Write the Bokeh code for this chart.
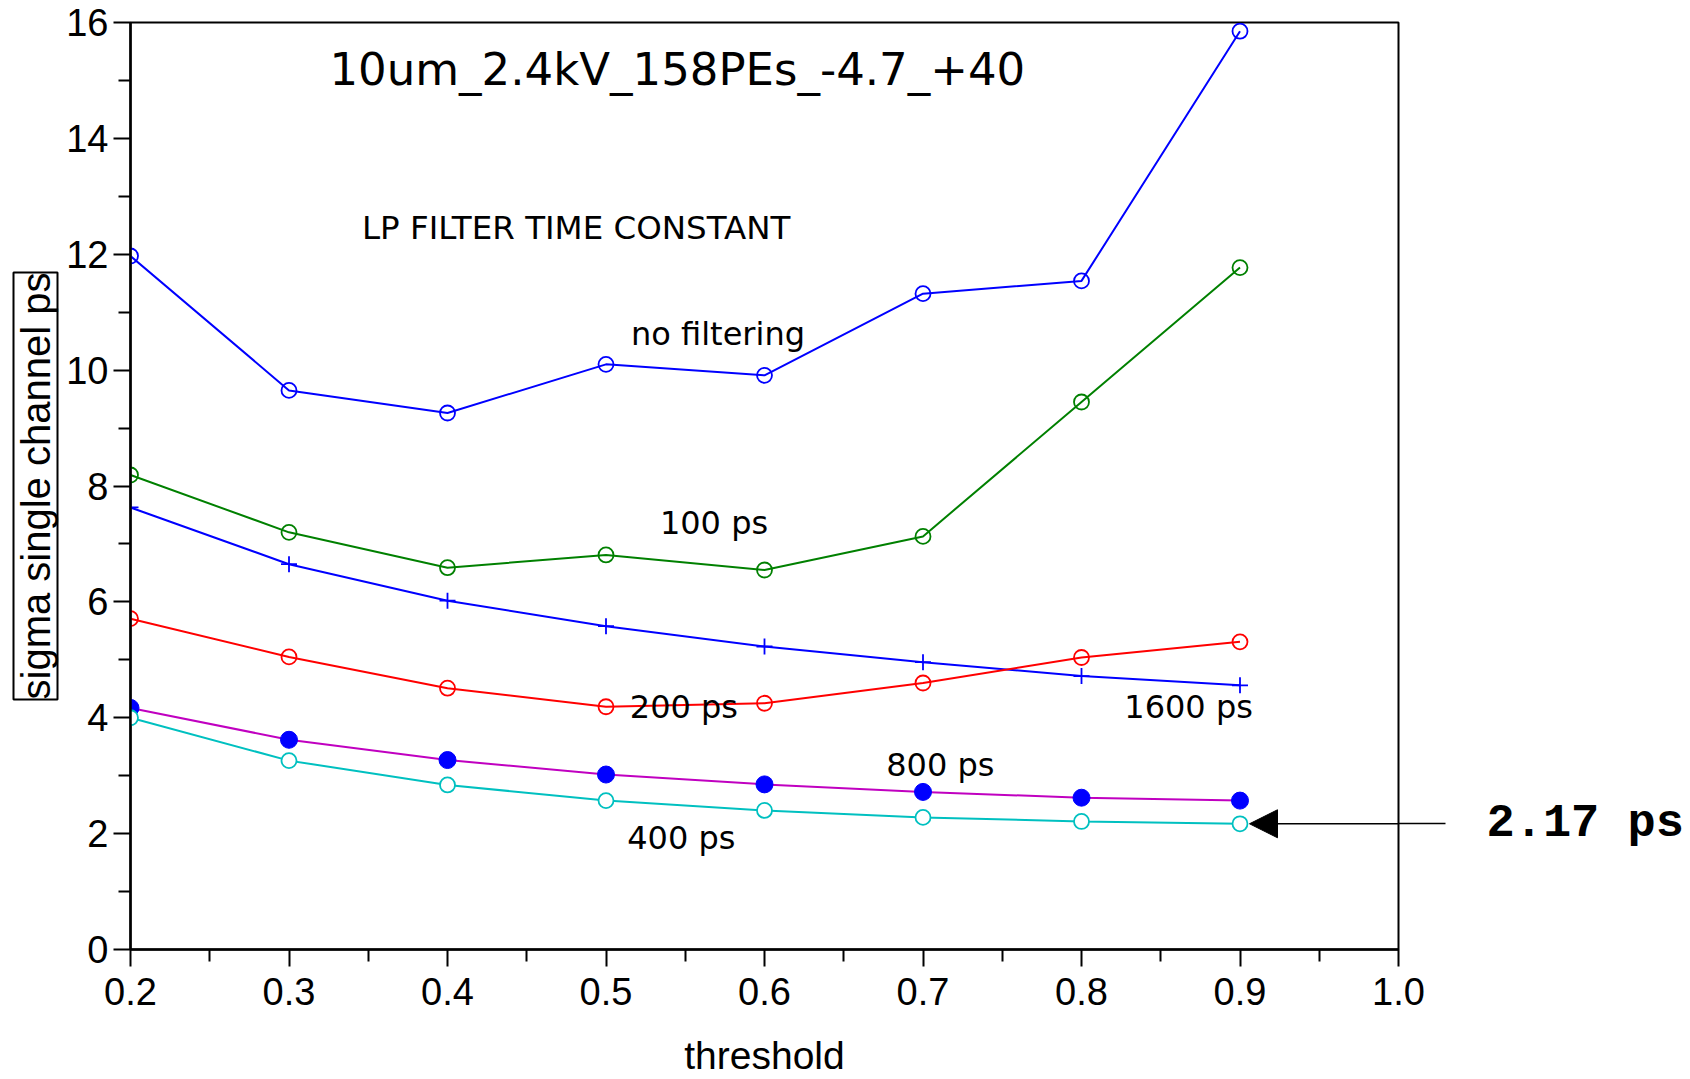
from bokeh.plotting import figure
from bokeh.models import Label, Arrow, NormalHead, Range1d, FixedTicker, LinearAxis, Title
from bokeh.embed import file_html
from bokeh.resources import INLINE

# ---- data ----
threshold = [0.2, 0.3, 0.4, 0.5, 0.6, 0.7, 0.8, 0.9]
sigma_no_filter = [11.97, 9.65, 9.26, 10.10, 9.91, 11.32, 11.54, 15.85]
sigma_100ps = [8.19, 7.20, 6.59, 6.81, 6.55, 7.13, 9.45, 11.77]
sigma_200ps = [5.71, 5.05, 4.51, 4.19, 4.25, 4.60, 5.04, 5.31]
sigma_400ps = [4.00, 3.26, 2.84, 2.57, 2.40, 2.28, 2.21, 2.17]
sigma_800ps = [4.17, 3.62, 3.27, 3.02, 2.85, 2.72, 2.62, 2.57]
sigma_1600ps = [7.63, 6.65, 6.02, 5.58, 5.23, 4.96, 4.72, 4.56]

x_ticks = [0.2, 0.3, 0.4, 0.5, 0.6, 0.7, 0.8, 0.9, 1.0]
x_tick_labels = ["0.2", "0.3", "0.4", "0.5", "0.6", "0.7", "0.8", "0.9", "1.0"]
x_minor = [0.25, 0.35, 0.45, 0.55, 0.65, 0.75, 0.85, 0.95]
y_ticks = [0, 2, 4, 6, 8, 10, 12, 14, 16]
y_minor = [1, 3, 5, 7, 9, 11, 13, 15]

title_text = "10um_2.4kV_158PEs_-4.7_+40"
legend_title = "LP FILTER TIME CONSTANT"
series_names = ["no filtering", "100 ps", "200 ps", "400 ps", "800 ps", "1600 ps"]
annot_value = 2.17
annot_text = "2.17 ps"
x_label = "threshold"
y_label = "sigma single channel ps"

SANS = "Liberation Sans"
DEJ = "DejaVu Sans"

p = figure(width=1690, height=1079, output_backend="svg", toolbar_location=None,
           x_range=Range1d(x_ticks[0], x_ticks[-1]),
           y_range=Range1d(y_ticks[0], y_ticks[-1]),
           min_border_left=130, min_border_right=292, min_border_top=22,
           min_border_bottom=129)
p.background_fill_color = "white"
p.border_fill_color = "white"
p.outline_line_color = "black"
p.outline_line_width = 2
p.xgrid.visible = False
p.ygrid.visible = False

for ax in (p.xaxis[0], p.yaxis[0]):
    ax.axis_line_color = "black"
    ax.axis_line_width = 2.5
    ax.major_tick_line_width = 2
    ax.minor_tick_line_width = 2
    ax.major_tick_out = 17
    ax.major_tick_in = 0
    ax.minor_tick_out = 12
    ax.minor_tick_in = 0
    ax.major_label_text_font = SANS
    ax.major_label_text_font_size = "38px"
    ax.major_label_text_color = "black"
    ax.axis_label_text_font = SANS
    ax.axis_label_text_font_size = "39px"
    ax.axis_label_text_font_style = "normal"
    ax.axis_label_text_color = "black"

p.xaxis.ticker = FixedTicker(ticks=x_ticks, minor_ticks=x_minor)
p.xaxis.major_label_overrides = {t: l for t, l in zip(x_ticks, x_tick_labels)}
p.xaxis.major_label_standoff = 11
p.xaxis.axis_label = x_label
p.xaxis.axis_label_standoff = 26

p.yaxis.ticker = FixedTicker(ticks=y_ticks, minor_ticks=y_minor)
p.yaxis.major_label_overrides = {t: str(t) for t in y_ticks}
p.yaxis.major_label_standoff = 5

# boxed y-axis title
ytitle = Title(text=y_label, align="center", text_font=SANS, text_font_size="40px",
               text_font_style="normal", text_color="black",
               border_line_color="black", border_line_width=2, standoff=12)
if "padding" in ytitle.properties():
    ytitle.padding = 0
p.add_layout(ytitle, "left")

lw = 2
# no filtering
p.line(threshold, sigma_no_filter, line_color="#0000ff", line_width=lw)
p.scatter(threshold, sigma_no_filter, marker="circle", size=15, fill_color=None,
          line_color="#0000ff", line_width=1.8)
# 100 ps
p.line(threshold, sigma_100ps, line_color="#008000", line_width=lw)
p.scatter(threshold, sigma_100ps, marker="circle", size=15, fill_color=None,
          line_color="#008000", line_width=1.8)
# 1600 ps
p.line(threshold, sigma_1600ps, line_color="#0000ff", line_width=lw)
p.scatter(threshold, sigma_1600ps, marker="cross", size=16,
          line_color="#0000ff", line_width=1.8)
# 200 ps
p.line(threshold, sigma_200ps, line_color="#ff0000", line_width=lw)
p.scatter(threshold, sigma_200ps, marker="circle", size=15, fill_color=None,
          line_color="#ff0000", line_width=1.8)
# 800 ps
p.line(threshold, sigma_800ps, line_color="#c000c0", line_width=lw)
p.scatter(threshold, sigma_800ps, marker="circle", size=17, fill_color="#0000ff",
          line_color="#0000ff", line_width=1)
# 400 ps
p.line(threshold, sigma_400ps, line_color="#00c0c0", line_width=lw)
p.scatter(threshold, sigma_400ps, marker="circle", size=15, fill_color="white",
          line_color="#00c0c0", line_width=1.8)


def lab(x, y, text, font=DEJ, size="32px", align="left", **kw):
    p.add_layout(Label(x=x, y=y, text=text, text_font=font, text_font_size=size,
                       text_align=align, text_baseline="alphabetic",
                       text_color="black", **kw))


lab(0.545, 15.19, title_text, size="45px", align="center")
lab(0.346, 12.46, legend_title, size="32.5px")
name_pos = [(0.5158, 10.62), (0.534, 7.36), (0.515, 4.18), (0.5134, 1.93),
            (0.6768, 3.19), (0.827, 4.18)]
for (x, y), n in zip(name_pos, series_names):
    lab(x, y, n)

# annotation: arrow inside the frame, tail + text via a right-side axis
p.add_layout(Arrow(end=NormalHead(size=28, fill_color="black", line_color="black"),
                   x_start=x_ticks[-1], y_start=annot_value, x_end=0.906,
                   y_end=annot_value, line_color="black", line_width=1.5))
rax = LinearAxis(ticker=FixedTicker(ticks=[annot_value], minor_ticks=[]),
                 major_label_overrides={annot_value: annot_text})
rax.axis_line_color = None
rax.major_tick_out = 47
rax.major_tick_in = 0
rax.minor_tick_out = 0
rax.minor_tick_in = 0
rax.major_tick_line_width = 1.5
rax.major_tick_line_color = "black"
rax.major_label_standoff = 41
rax.major_label_text_font = "Liberation Mono"
rax.major_label_text_font_style = "bold"
rax.major_label_text_font_size = "47px"
rax.major_label_text_color = "black"
p.add_layout(rax, "right")

open("out.html", "w").write(file_html(p, INLINE))
